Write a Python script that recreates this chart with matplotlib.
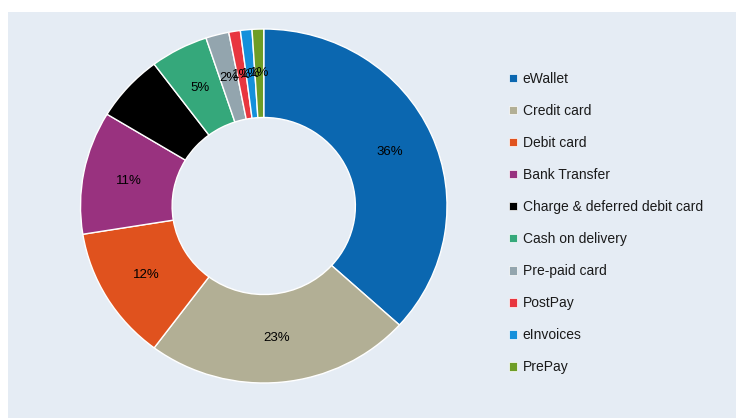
import matplotlib.pyplot as plt
from matplotlib.patches import Rectangle, Patch

plt.rcParams['font.family'] = ['Liberation Sans', 'DejaVu Sans']

# payment methods share, %
methods = ["eWallet", "Credit card", "Debit card", "Bank Transfer",
           "Charge & deferred debit card", "Cash on delivery", "Pre-paid card",
           "PostPay", "eInvoices", "PrePay"]
shares = [36, 23, 12, 11, 6, 5, 2, 1, 1, 1]
colors = ["#0b67b0", "#b2af95", "#e0521e", "#99327f", "#000000",
          "#35a87b", "#93a5ae", "#e8363f", "#1490db", "#6e9d26"]

bg = "#e5ecf4"

fig = plt.figure(figsize=(7.36, 4.18), dpi=100)
fig.patch.set_facecolor("white")
# light panel behind the chart
fig.patches.append(Rectangle((8 / 736, 0), 1, 1 - 12 / 418, transform=fig.transFigure,
                             facecolor=bg, edgecolor="none", zorder=-1))

ax = fig.add_axes([80.5 / 736, 35 / 418, 366.5 / 736, 354 / 418])
ax.set_facecolor("none")
wedges, texts = ax.pie(shares, colors=colors, startangle=90, counterclock=False,
                       labels=[f"{v}%" for v in shares], labeldistance=0.75,
                       wedgeprops=dict(width=0.5, edgecolor="white", linewidth=1),
                       textprops=dict(fontsize=9.5, color="black", ha="center", va="center"))
ax.set_aspect("auto")
ax.set_xlim(-1, 1)
ax.set_ylim(-1, 1)

handles = [Patch(facecolor=c, edgecolor="white", linewidth=0.5) for c in colors]
fig.legend(handles, methods, loc="upper left", bbox_to_anchor=(502 / 736, 1 - 65 / 418),
           frameon=False, fontsize=10, handlelength=0.55, handleheight=0.55,
           handletextpad=0.45, labelspacing=1.3, borderpad=0, labelcolor="#1a1a1a")

fig.savefig("out.png", dpi=100, facecolor=fig.get_facecolor())
